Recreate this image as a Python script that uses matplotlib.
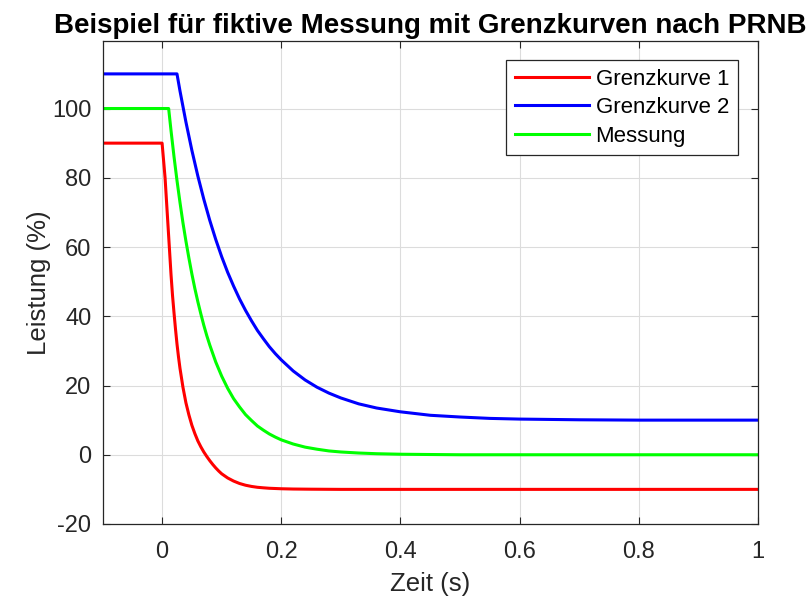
import matplotlib
matplotlib.use("Agg")
import matplotlib.pyplot as plt

plt.rcParams['font.family'] = ['Liberation Sans', 'DejaVu Sans']
plt.rcParams['axes.unicode_minus'] = False

# --- data ---
t_grenz1 = [-0.1, 0.0, 0.0025, 0.005, 0.0075, 0.01, 0.0125, 0.015, 0.0175, 0.02,
            0.0225, 0.025, 0.0275, 0.03, 0.035, 0.04, 0.045, 0.05, 0.055, 0.06,
            0.065, 0.07, 0.075, 0.08, 0.085, 0.09, 0.095, 0.10, 0.11, 0.12,
            0.13, 0.14, 0.15, 0.16, 0.17, 0.18, 0.20, 0.22, 0.25, 0.30, 1.0]
p_grenz1 = [90, 90, 85, 80, 73, 66, 59, 52, 46, 41,
            36.3, 32, 28.3, 25, 19.5, 15, 11.5, 8.5, 6.1, 4,
            2.3, 0.8, -0.5, -1.7, -2.8, -3.8, -4.7, -5.5, -6.7, -7.6,
            -8.3, -8.8, -9.15, -9.4, -9.55, -9.68, -9.82, -9.9, -9.95, -10, -10]

t_grenz2 = [-0.1, 0.025, 0.03, 0.04, 0.05, 0.06, 0.07, 0.08, 0.09, 0.10,
            0.11, 0.12, 0.13, 0.14, 0.15, 0.16, 0.17, 0.18, 0.19, 0.20,
            0.22, 0.24, 0.26, 0.28, 0.30, 0.33, 0.36, 0.40, 0.45, 0.50,
            0.55, 0.60, 0.70, 0.80, 1.0]
p_grenz2 = [110, 110, 105.1, 96.1, 87.9, 80.5, 73.8, 67.7, 62.2, 57.2,
            52.7, 48.7, 45.0, 41.7, 38.7, 35.9, 33.5, 31.2, 29.2, 27.4,
            24.2, 21.6, 19.5, 17.8, 16.4, 14.7, 13.5, 12.4, 11.4, 10.9,
            10.5, 10.3, 10.1, 10.0, 10.0]

t_mess = [-0.1, 0.011, 0.015, 0.02, 0.025, 0.03, 0.035, 0.04, 0.045, 0.05,
          0.055, 0.06, 0.065, 0.07, 0.075, 0.08, 0.09, 0.10, 0.11, 0.12,
          0.13, 0.14, 0.15, 0.16, 0.17, 0.18, 0.19, 0.20, 0.22, 0.24,
          0.26, 0.28, 0.30, 0.33, 0.36, 0.40, 0.45, 0.50, 1.0]
p_mess = [100, 100, 93.6, 86.1, 79.2, 72.9, 67.0, 61.7, 56.8, 52.2,
          48.0, 44.2, 40.7, 37.4, 34.4, 31.7, 26.8, 22.7, 19.2, 16.2,
          13.8, 11.6, 9.9, 8.3, 7.1, 6.0, 5.1, 4.3, 3.1, 2.2,
          1.6, 1.1, 0.8, 0.5, 0.3, 0.15, 0.07, 0, 0]

labels = ['Grenzkurve 1', 'Grenzkurve 2', 'Messung']
colors = ['#ff0000', '#0000ff', '#00ff00']

xticks = [0, 0.2, 0.4, 0.6, 0.8, 1]
xticklabels = ['0', '0.2', '0.4', '0.6', '0.8', '1']
yticks = [-20, 0, 20, 40, 60, 80, 100]

W, H = 811, 598
fig = plt.figure(figsize=(W / 100, H / 100), dpi=100)
ax = fig.add_axes([102.5 / W, 1 - 524 / H, (758 - 102.5) / W, (524 - 41) / H])

ax.plot(t_grenz1, p_grenz1, color=colors[0], lw=2.2, label=labels[0])
ax.plot(t_grenz2, p_grenz2, color=colors[1], lw=2.2, label=labels[1])
ax.plot(t_mess, p_mess, color=colors[2], lw=2.2, label=labels[2])

ax.set_xlim(-0.1, 1)
ax.set_ylim(-20, 119.5)
ax.set_xticks(xticks)
ax.set_xticklabels(xticklabels)
ax.set_yticks(yticks)

axcol = '#262626'
for s in ax.spines.values():
    s.set_color(axcol)
    s.set_linewidth(0.9)
ax.tick_params(direction='in', length=5, width=0.8, colors=axcol, labelsize=17,
               top=True, right=True, pad=8)
ax.tick_params(axis='x', pad=12)
ax.grid(True, color='#dcdcdc', linewidth=0.8)
ax.set_axisbelow(True)

ax.set_xlabel('Zeit (s)', fontsize=18.5, color=axcol, labelpad=7)
ax.set_ylabel('Leistung (%)', fontsize=18.5, color=axcol, labelpad=1)
ax.set_title('Beispiel für fiktive Messung mit Grenzkurven nach PRNB',
             fontsize=20, fontweight='bold', color='black', pad=6)

leg = ax.legend(loc='upper right', bbox_to_anchor=((738 - 102.5) / (758 - 102.5), (524 - 60) / (524 - 41)),
                borderaxespad=0, fontsize=16, frameon=True, fancybox=False,
                handlelength=3.35, handletextpad=0.3, labelspacing=0.33,
                borderpad=0.4)
leg.get_frame().set_edgecolor(axcol)
leg.get_frame().set_linewidth(0.9)
leg.get_frame().set_alpha(1)

fig.savefig('out.png', dpi=100)
